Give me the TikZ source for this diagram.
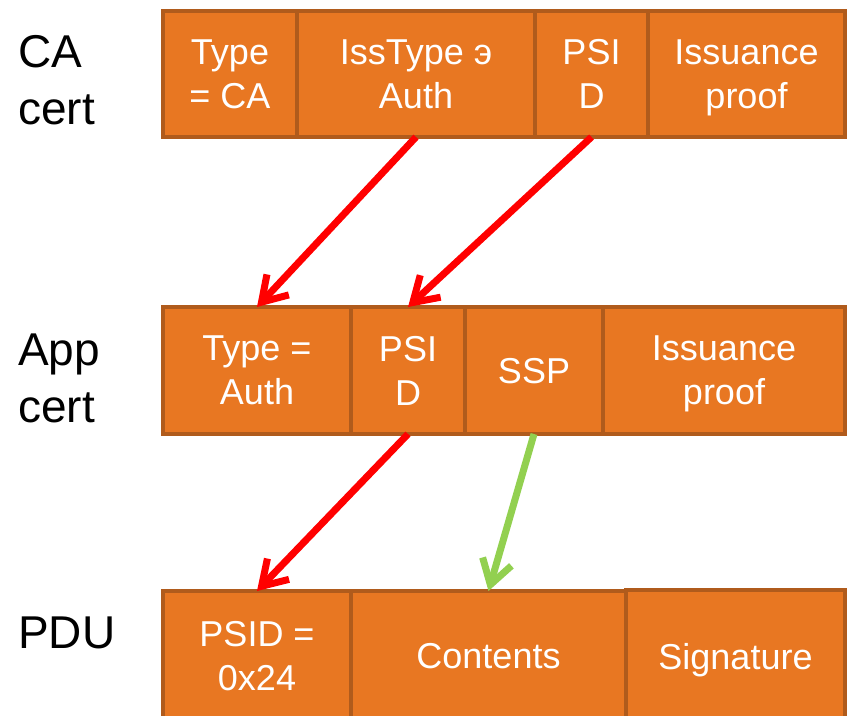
\documentclass[tikz,border=0pt]{standalone}
\usepackage{fontspec}
\setmainfont{Liberation Sans}
\usetikzlibrary{arrows.meta,positioning}
\definecolor{cellfill}{HTML}{E87722}
\definecolor{celledge}{HTML}{B05B1C}
\definecolor{linkred}{HTML}{FF0000}
\definecolor{linkgreen}{HTML}{92D050}
\newsavebox\celltext

\begin{document}
\begin{tikzpicture}[x=1pt,y=-1pt,node distance=0pt,>={Straight Barb[length=24pt,width=30pt]},
  field/.style={draw=celledge,fill=cellfill,line width=4pt,outer sep=0pt,inner sep=0pt,text=white,align=center,
    font=\fontsize{36}{44}\selectfont,
    execute at begin node={\setbox\celltext\hbox\bgroup},
    execute at end node={\egroup\dp\celltext=\dimexpr\dp\celltext-8pt\relax\box\celltext}},
  rowlabel/.style={anchor=west,align=left,inner sep=0pt,font=\fontsize{46}{57}\selectfont},
  link/.style={->,line width=7pt}]
\useasboundingbox (0,0) rectangle (850,715);
% CA certificate
\node[rowlabel] (calabel) at (18,80) {CA\\cert};
\node[field,minimum width=134pt,minimum height=126pt] (catype) at (230,74) {Type\\= CA};
\node[field,minimum width=238pt,minimum height=126pt,right=of catype] (caiss) {IssType э\\Auth};
\node[field,minimum width=113pt,minimum height=126pt,right=of caiss] (capsid) {PSI\\D};
\node[field,minimum width=197pt,minimum height=126pt,right=of capsid] (caproof) {Issuance\\proof};
% application certificate
\node[rowlabel] (applabel) at (18,378) {App\\cert};
\node[field,minimum width=188pt,minimum height=127pt] (apptype) at (257,370.5) {Type =\\Auth};
\node[field,minimum width=114pt,minimum height=127pt,right=of apptype] (apppsid) {PSI\\D};
\node[field,minimum width=138pt,minimum height=127pt,right=of apppsid] (appssp) {SSP};
\node[field,minimum width=242pt,minimum height=127pt,right=of appssp] (appproof) {Issuance\\proof};
% PDU
\node[rowlabel] (pdulabel) at (18,633) {PDU};
\node[field,minimum width=188pt,minimum height=130pt] (pdupsid) at (257,656) {PSID =\\0x24};
\node[field,minimum width=275pt,minimum height=130pt,right=of pdupsid] (pducontents) {Contents};
\node[field,minimum width=219pt,minimum height=132pt,right=of pducontents] (pdusig) {Signature};
% links
\draw[link,linkred] (caiss.south) -- (apptype.north);
\draw[link,linkred] (capsid.south) -- (apppsid.north);
\draw[link,linkred] (apppsid.south) -- (pdupsid.north);
\draw[link,linkgreen] (appssp.south) -- (pducontents.north);
\end{tikzpicture}
\end{document}
